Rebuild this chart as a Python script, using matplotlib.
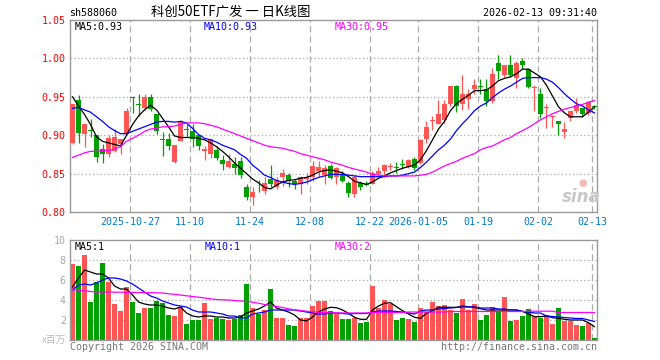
#!/usr/bin/env python3
# -*- coding: utf-8 -*-
import matplotlib
matplotlib.use("Agg")
import matplotlib.pyplot as plt
import numpy as np

# ----------------------- data -----------------------
opens = [0.890, 0.946, 0.901, 0.907, 0.900, 0.882, 0.875, 0.879, 0.889, 0.901,
         0.949, 0.940, 0.936, 0.950, 0.927, 0.895, 0.895, 0.865, 0.892, 0.908,
         0.905, 0.900, 0.880, 0.875, 0.881, 0.868, 0.859, 0.863, 0.867, 0.832,
         0.820, 0.833, 0.827, 0.843, 0.832, 0.845, 0.848, 0.840, 0.836, 0.843,
         0.846, 0.854, 0.848, 0.860, 0.845, 0.850, 0.838, 0.824, 0.838, 0.836,
         0.837, 0.850, 0.853, 0.858, 0.858, 0.863, 0.858, 0.869, 0.864, 0.895,
         0.918, 0.915, 0.920, 0.941, 0.964, 0.940, 0.947, 0.960, 0.964, 0.960,
         0.944, 0.994, 0.979, 0.991, 0.975, 0.996, 0.986, 0.961, 0.953, 0.935,
         0.924, 0.918, 0.904, 0.923, 0.932, 0.935, 0.929, 0.938]
highs = [0.941, 0.952, 0.914, 0.921, 0.900, 0.889, 0.900, 0.908, 0.895, 0.936,
         0.951, 0.954, 0.954, 0.953, 0.927, 0.904, 0.903, 0.887, 0.920, 0.914,
         0.914, 0.900, 0.886, 0.895, 0.886, 0.874, 0.875, 0.871, 0.871, 0.836,
         0.832, 0.842, 0.845, 0.861, 0.846, 0.856, 0.851, 0.843, 0.847, 0.851,
         0.867, 0.866, 0.861, 0.863, 0.859, 0.853, 0.841, 0.848, 0.841, 0.840,
         0.853, 0.858, 0.862, 0.864, 0.865, 0.869, 0.869, 0.871, 0.895, 0.919,
         0.925, 0.946, 0.946, 0.964, 0.966, 0.978, 0.960, 0.973, 0.973, 0.973,
         0.987, 1.004, 0.991, 1.004, 0.996, 1.000, 0.987, 0.965, 0.961, 0.941,
         0.926, 0.918, 0.917, 0.932, 0.948, 0.935, 0.944, 0.939]
lows = [0.889, 0.890, 0.885, 0.898, 0.865, 0.864, 0.871, 0.878, 0.876, 0.901,
        0.929, 0.925, 0.933, 0.931, 0.901, 0.873, 0.881, 0.864, 0.892, 0.898,
        0.885, 0.881, 0.868, 0.870, 0.868, 0.855, 0.857, 0.850, 0.844, 0.815,
        0.809, 0.826, 0.824, 0.832, 0.830, 0.834, 0.832, 0.830, 0.823, 0.837,
        0.841, 0.846, 0.837, 0.843, 0.837, 0.839, 0.819, 0.820, 0.829, 0.834,
        0.836, 0.847, 0.846, 0.855, 0.851, 0.856, 0.857, 0.855, 0.863, 0.890,
        0.907, 0.914, 0.916, 0.938, 0.930, 0.933, 0.934, 0.954, 0.954, 0.938,
        0.942, 0.973, 0.976, 0.976, 0.961, 0.986, 0.961, 0.931, 0.922, 0.909,
        0.911, 0.900, 0.896, 0.918, 0.929, 0.924, 0.926, 0.934]
closes = [0.941, 0.903, 0.914, 0.906, 0.871, 0.875, 0.897, 0.898, 0.895, 0.932,
          0.948, 0.939, 0.950, 0.934, 0.905, 0.894, 0.886, 0.887, 0.918, 0.907,
          0.895, 0.886, 0.882, 0.895, 0.870, 0.863, 0.867, 0.857, 0.848, 0.819,
          0.826, 0.832, 0.838, 0.836, 0.842, 0.851, 0.841, 0.836, 0.845, 0.845,
          0.860, 0.859, 0.857, 0.844, 0.857, 0.841, 0.825, 0.846, 0.832, 0.835,
          0.851, 0.854, 0.861, 0.860, 0.857, 0.861, 0.868, 0.857, 0.894, 0.911,
          0.920, 0.927, 0.940, 0.964, 0.938, 0.954, 0.953, 0.966, 0.963, 0.945,
          0.980, 0.984, 0.991, 0.979, 0.994, 0.992, 0.963, 0.962, 0.927, 0.936,
          0.925, 0.914, 0.908, 0.932, 0.939, 0.927, 0.943, 0.937]

ma5 = [0.950, 0.938, 0.927, 0.914, 0.898, 0.892, 0.890, 0.888, 0.886, 0.900,
       0.914, 0.925, 0.933, 0.939, 0.933, 0.922, 0.911, 0.899, 0.897, 0.897,
       0.897, 0.896, 0.894, 0.890, 0.885, 0.879, 0.872, 0.864, 0.857, 0.850,
       0.843, 0.838, 0.832, 0.830, 0.835, 0.839, 0.841, 0.842, 0.844, 0.845,
       0.848, 0.852, 0.854, 0.855, 0.853, 0.851, 0.846, 0.840, 0.838, 0.836,
       0.839, 0.844, 0.847, 0.851, 0.854, 0.857, 0.859, 0.861, 0.868, 0.880,
       0.894, 0.908, 0.918, 0.932, 0.941, 0.947, 0.952, 0.958, 0.958, 0.959,
       0.964, 0.971, 0.974, 0.976, 0.980, 0.986, 0.986, 0.981, 0.976, 0.965,
       0.951, 0.937, 0.929, 0.924, 0.924, 0.924, 0.930, 0.937]
ma10 = [0.935, 0.936, 0.933, 0.930, 0.924, 0.918, 0.911, 0.906, 0.902, 0.902,
        0.905, 0.908, 0.911, 0.914, 0.917, 0.918, 0.918, 0.917, 0.918, 0.916,
        0.909, 0.901, 0.896, 0.894, 0.891, 0.887, 0.884, 0.881, 0.875, 0.870,
        0.861, 0.855, 0.848, 0.845, 0.841, 0.839, 0.837, 0.836, 0.837, 0.839,
        0.842, 0.845, 0.847, 0.849, 0.849, 0.849, 0.848, 0.847, 0.846, 0.846,
        0.846, 0.846, 0.846, 0.847, 0.847, 0.848, 0.850, 0.852, 0.858, 0.865,
        0.873, 0.881, 0.887, 0.895, 0.906, 0.915, 0.923, 0.932, 0.938, 0.942,
        0.949, 0.955, 0.960, 0.964, 0.969, 0.974, 0.975, 0.975, 0.975, 0.973,
        0.969, 0.962, 0.954, 0.947, 0.941, 0.938, 0.933, 0.929]
ma30 = [0.871, 0.874, 0.877, 0.879, 0.879, 0.880, 0.880, 0.882, 0.885, 0.892,
        0.896, 0.900, 0.905, 0.908, 0.909, 0.911, 0.911, 0.912, 0.914, 0.916,
        0.916, 0.916, 0.915, 0.913, 0.911, 0.908, 0.905, 0.902, 0.899, 0.896,
        0.893, 0.890, 0.887, 0.885, 0.884, 0.883, 0.881, 0.879, 0.876, 0.874,
        0.872, 0.870, 0.868, 0.865, 0.863, 0.861, 0.858, 0.856, 0.854, 0.852,
        0.849, 0.848, 0.847, 0.847, 0.847, 0.847, 0.847, 0.847, 0.848, 0.849,
        0.852, 0.856, 0.860, 0.863, 0.866, 0.870, 0.873, 0.876, 0.881, 0.884,
        0.886, 0.890, 0.894, 0.897, 0.902, 0.906, 0.910, 0.915, 0.920, 0.924,
        0.928, 0.931, 0.934, 0.936, 0.938, 0.940, 0.943, 0.945]

# volume in millions (x百万)
volume = [7.63, 7.40, 8.50, 3.83, 5.83, 7.70, 5.83, 3.60, 2.93, 5.30,
          3.83, 2.73, 3.23, 3.23, 3.93, 3.67, 2.50, 2.43, 3.27, 1.63,
          2.00, 2.00, 3.70, 2.13, 2.23, 2.13, 2.03, 2.10, 2.50, 5.63,
          3.23, 2.60, 3.00, 5.10, 2.23, 2.23, 1.50, 1.40, 2.23, 2.23,
          3.40, 3.93, 3.93, 2.93, 2.60, 2.10, 2.10, 2.23, 1.73, 1.83,
          5.43, 3.23, 4.00, 3.60, 2.00, 2.23, 2.10, 1.83, 3.23, 2.83,
          3.80, 3.43, 3.47, 3.00, 2.73, 4.10, 3.00, 3.60, 2.00, 2.50,
          3.33, 2.83, 4.30, 1.93, 2.00, 2.40, 3.10, 2.40, 2.20, 2.47,
          1.63, 3.20, 1.90, 1.90, 1.50, 1.40, 1.67, 0.20]
vol_ma5 = [5.30, 6.20, 7.00, 6.80, 6.60, 6.60, 6.20, 5.40, 5.10, 5.10,
           4.50, 3.80, 3.60, 3.50, 3.50, 3.40, 3.20, 3.10, 3.30, 2.70,
           2.40, 2.30, 2.40, 2.40, 2.30, 2.30, 2.20, 2.20, 2.30, 2.70,
           2.90, 3.10, 3.40, 3.80, 3.20, 3.00, 2.80, 2.50, 2.00, 1.90,
           2.30, 2.80, 3.10, 3.27, 3.23, 3.00, 2.67, 2.27, 2.07, 2.07,
           3.00, 3.40, 3.67, 3.73, 3.33, 2.93, 2.60, 2.27, 2.17, 2.67,
           2.93, 3.27, 3.27, 3.27, 3.27, 3.40, 3.33, 3.27, 3.13, 3.00,
           3.00, 3.00, 3.00, 3.00, 3.00, 2.87, 2.60, 2.33, 2.33, 2.40,
           2.23, 2.17, 2.07, 2.00, 2.00, 2.00, 1.73, 1.33]
vol_ma10 = [5.00, 5.50, 5.60, 5.50, 5.70, 6.00, 6.20, 6.20, 6.10, 5.90,
            5.60, 5.20, 4.80, 4.40, 4.20, 3.90, 3.70, 3.50, 3.40, 3.30,
            3.00, 2.80, 2.80, 2.80, 2.70, 2.60, 2.40, 2.40, 2.20, 2.20,
            2.60, 2.70, 2.80, 3.00, 3.00, 3.00, 3.00, 3.00, 2.90, 2.80,
            2.70, 2.60, 2.60, 2.70, 2.70, 2.65, 2.60, 2.65, 2.65, 2.65,
            2.80, 2.90, 2.90, 2.90, 2.85, 2.80, 2.70, 2.60, 2.90, 3.00,
            3.00, 3.10, 3.15, 3.20, 3.25, 3.30, 3.30, 3.30, 3.20, 3.20,
            3.20, 3.10, 3.10, 3.00, 3.00, 2.85, 2.80, 2.70, 2.70, 2.40,
            2.35, 2.30, 2.25, 2.20, 2.15, 2.15, 2.00, 1.85]
vol_ma30 = [5.05, 4.98, 4.92, 4.85, 4.80, 4.80, 4.80, 4.78, 4.78, 4.77,
            4.76, 4.75, 4.74, 4.73, 4.72, 4.70, 4.62, 4.57, 4.50, 4.42,
            4.35, 4.28, 4.20, 4.12, 4.05, 4.02, 4.00, 3.95, 3.90, 3.85,
            3.78, 3.68, 3.55, 3.45, 3.35, 3.25, 3.12, 3.02, 2.95, 2.88,
            2.82, 2.77, 2.74, 2.72, 2.70, 2.70, 2.70, 2.70, 2.70, 2.70,
            2.75, 2.75, 2.75, 2.75, 2.75, 2.75, 2.80, 2.80, 2.80, 2.80,
            2.80, 2.80, 2.80, 2.85, 2.85, 2.85, 2.85, 2.85, 2.85, 2.85,
            2.85, 2.85, 2.85, 2.85, 2.85, 2.85, 2.88, 2.88, 2.88, 2.88,
            2.88, 2.75, 2.75, 2.75, 2.75, 2.75, 2.75, 2.75]

date_idx = [10, 20, 30, 40, 50, 58, 68, 78, 87]
date_labels = ["2025-10-27", "11-10", "11-24", "12-08", "12-22",
               "2026-01-05", "01-19", "02-02", "02-13"]
price_ticks = [0.80, 0.85, 0.90, 0.95, 1.00, 1.05]
vol_ticks = [2, 4, 6, 8, 10]

# ----------------------- styling -----------------------
W, H = 660, 360
RED = "#ff5555"
GREEN = "#00a000"
FRAME = "#999999"
GRID = "#aaaaaa"
MONO = "DejaVu Sans Mono"
CJK = ["Noto Sans CJK SC", "DejaVu Sans"]

fig = plt.figure(figsize=(W / 100, H / 100), dpi=100)
fig.patch.set_facecolor("white")


def px_axes(x0, y0, x1, y1):
    return fig.add_axes([x0 / W, 1 - y1 / H, (x1 - x0) / W, (y1 - y0) / H])


def px_text(x, y, s, **kw):
    fig.text(x / W, 1 - y / H, s, **kw)


ax = px_axes(70, 20, 597, 212)
axv = px_axes(70, 240, 597, 340)

n = len(closes)
x = np.arange(n)
up = np.array(closes) >= np.array(opens)
colors = np.where(up, RED, GREEN)

for a in (ax, axv):
    a.set_xlim(-0.42, n - 1 + 0.42)
    for s in a.spines.values():
        s.set_color(FRAME)
        s.set_linewidth(1.0)
    a.tick_params(length=0)
    a.set_xticks([])
    for i in date_idx:
        a.axvline(i - 0.42, color=GRID, lw=0.9, ls=(0, (5, 3)), zorder=0)

# price panel
ax.set_ylim(0.80, 1.05)
ax.set_yticks(price_ticks)
ax.set_yticklabels([f"{v:.2f}" for v in price_ticks], color="red",
                   family=MONO, fontsize=7.2)
ax.tick_params(axis="y", pad=3)
for v in price_ticks[1:-1]:
    ax.axhline(v, color=GRID, lw=0.9, ls=(0, (1, 2)), zorder=0)

body_lo = np.minimum(opens, closes)
body_h = np.maximum(np.abs(np.array(closes) - np.array(opens)), 0.0012)
ax.vlines(x, lows, highs, colors=colors, lw=0.9, zorder=2)
ax.bar(x, body_h, bottom=body_lo, width=0.8, color=colors, lw=0, zorder=3)

ax.plot(x, ma5, color="black", lw=0.9, zorder=4)
ax.plot(x, ma10, color="blue", lw=0.9, zorder=4)
ax.plot(x, ma30, color="magenta", lw=0.9, zorder=4)

# date labels
for i, lab in zip(date_idx, date_labels):
    ax.text(i - 0.42, -0.052, lab, transform=ax.get_xaxis_transform(),
            ha="center", va="center", color="#0078c8", family=MONO, fontsize=7.2)

# volume panel
axv.set_ylim(0, 10)
axv.set_yticks(vol_ticks)
axv.set_yticklabels([str(v) for v in vol_ticks], color="#aaaaaa",
                    family=MONO, fontsize=7.2)
axv.tick_params(axis="y", pad=3)
for v in vol_ticks[:-1]:
    axv.axhline(v, color=GRID, lw=0.9, ls=(0, (1, 2)), zorder=0)
axv.bar(x, volume, width=0.83, color=colors, lw=0, zorder=2)
axv.plot(x, vol_ma5, color="black", lw=0.9, zorder=4)
axv.plot(x, vol_ma10, color="blue", lw=0.9, zorder=4)
axv.plot(x, vol_ma30, color="magenta", lw=0.9, zorder=4)

# header texts
px_text(69, 13, "sh588060", family=MONO, fontsize=7.2, va="center", ha="left")
px_text(151, 12, "科创50ETF广发 一 日K线图", family=CJK, fontsize=9.6,
        va="center", ha="left")
px_text(597, 13, "2026-02-13 09:31:40", family=MONO, fontsize=7.2,
        va="center", ha="right")

# legend texts
px_text(75, 27, "MA5:0.93", family=MONO, fontsize=7.2, va="center", color="black")
px_text(204, 27, "MA10:0.93", family=MONO, fontsize=7.2, va="center", color="blue")
px_text(335, 27, "MA30:0.95", family=MONO, fontsize=7.2, va="center", color="magenta")
px_text(75, 247, "MA5:1", family=MONO, fontsize=7.2, va="center", color="black")
px_text(205, 247, "MA10:1", family=MONO, fontsize=7.2, va="center", color="blue")
px_text(335, 247, "MA30:2", family=MONO, fontsize=7.2, va="center", color="magenta")

px_text(66, 340, "x百万", family=CJK, fontsize=7, va="center", ha="right",
        color="#bbbbbb")
px_text(70, 347, "Copyright 2026 SINA.COM", family=MONO, fontsize=7.2,
        va="center", ha="left", color="#777777")
px_text(597, 347, "http://finance.sina.com.cn", family=MONO, fontsize=7.2,
        va="center", ha="right", color="#777777")

# sina watermark
px_text(581, 197, "sina", fontsize=12, fontweight="bold", style="italic",
        va="center", ha="center", color="#c8c8c8")
px_text(583, 183, "●", fontsize=7, va="center", ha="center", color="#f2b8b8")

fig.savefig("out.png", dpi=100)
